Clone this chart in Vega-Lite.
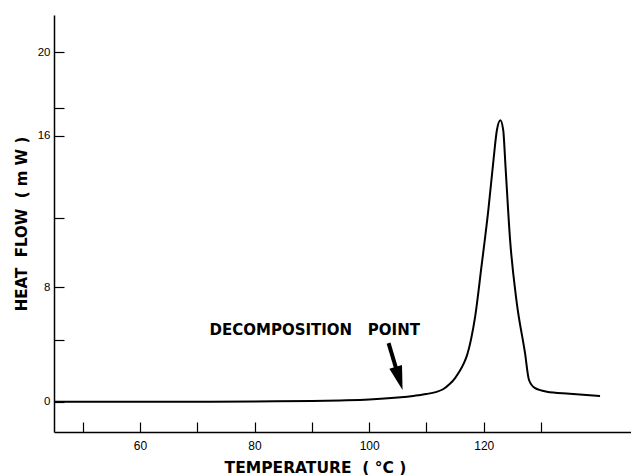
{
  "$schema": "https://vega.github.io/schema/vega-lite/v6.json",
  "autosize": "none",
  "width": 577,
  "height": 417,
  "padding": {"left": 54, "top": 15, "right": 0, "bottom": 43},
  "background": "white",
  "config": {
    "view": {"stroke": null},
    "axis": {
      "domainColor": "black",
      "domainWidth": 1.5,
      "tickColor": "black",
      "tickWidth": 1.2,
      "labelColor": "black",
      "titleColor": "black",
      "labelFont": "Liberation Sans",
      "titleFont": "DejaVu Sans",
      "grid": false
    }
  },
  "datasets": {
    "curve": [
      {"T": 45, "v": 0}, {"T": 50, "v": 0}, {"T": 60, "v": 0}, {"T": 70, "v": 0},
      {"T": 80, "v": 0.05}, {"T": 90, "v": 0.12}, {"T": 95, "v": 0.2},
      {"T": 100, "v": 0.31}, {"T": 105, "v": 0.53}, {"T": 108, "v": 0.72}, {"T": 110, "v": 0.88},
      {"T": 111.6, "v": 1.05}, {"T": 112.9, "v": 1.3}, {"T": 114.1, "v": 1.75}, {"T": 115.0, "v": 2.2},
      {"T": 115.8, "v": 2.72}, {"T": 116.5, "v": 3.25},
      {"T": 117.0, "v": 3.73}, {"T": 117.8, "v": 4.9}, {"T": 118.5, "v": 6.28}, {"T": 119.6, "v": 9.17},
      {"T": 120.8, "v": 12.22}, {"T": 121.7, "v": 14.78}, {"T": 122.3, "v": 16.27},
      {"T": 122.9, "v": 16.75}, {"T": 123.4, "v": 16.27}, {"T": 123.8, "v": 14.45},
      {"T": 124.6, "v": 10.63}, {"T": 125.7, "v": 7.27}, {"T": 127.2, "v": 3.98},
      {"T": 127.9, "v": 2.05}, {"T": 128.9, "v": 1.41}, {"T": 131.0, "v": 1.09},
      {"T": 135.0, "v": 0.91}, {"T": 140.3, "v": 0.69}
    ],
    "label": [{"T": 90.5, "v": 5.46, "text": "DECOMPOSITION\u00a0\u00a0\u00a0POINT"}],
    "shaft": [{"T": 103.39, "v": 4.63, "T2": 104.79, "v2": 2.8}],
    "head": [{"T": 105.23, "v": 2.17}]
  },
  "layer": [
    {
      "data": {"name": "curve"},
      "mark": {"type": "line", "color": "black", "strokeWidth": 2, "interpolate": "monotone"},
      "encoding": {
        "x": {
          "field": "T", "type": "quantitative",
          "scale": {"domain": [45, 145.7], "nice": false, "zero": false},
          "axis": {
            "values": [50, 60, 70, 80, 90, 100, 110, 120, 130],
            "labelExpr": "(datum.value == 60 || datum.value == 80 || datum.value == 100 || datum.value == 120) ? datum.label : ''",
            "tickSize": -10,
            "labelPadding": 18,
            "labelFontSize": 12,
            "title": "TEMPERATURE\u00a0\u00a0( °C )",
            "titleFontSize": 15.5,
            "titleFontWeight": "bold",
            "titleX": 261,
            "titleY": 40,
            "titleBaseline": "alphabetic"
          }
        },
        "y": {
          "field": "v", "type": "quantitative",
          "scale": {"type": "pow", "exponent": 1.22, "domain": [-2.694, 21.73], "nice": false, "zero": false},
          "axis": {
            "values": [0, 4.83, 8, 11.8, 16, 17.34, 20],
            "labelExpr": "(datum.value == 0 || datum.value == 8 || datum.value == 16 || datum.value == 20) ? datum.label : ''",
            "tickSize": -10,
            "labelPadding": 14,
            "labelFontSize": 11.5,
            "title": "HEAT\u00a0\u00a0FLOW\u00a0\u00a0( m W )",
            "titleFontSize": 15,
            "titleFontWeight": "bold",
            "titlePadding": 8
          }
        }
      }
    },
    {
      "data": {"name": "label"},
      "mark": {"type": "text", "font": "DejaVu Sans", "fontWeight": "bold", "fontSize": 15, "color": "black", "align": "center", "baseline": "middle"},
      "encoding": {
        "x": {"field": "T", "type": "quantitative"},
        "y": {"field": "v", "type": "quantitative"},
        "text": {"field": "text"}
      }
    },
    {
      "data": {"name": "shaft"},
      "mark": {"type": "rule", "color": "black", "strokeWidth": 4},
      "encoding": {
        "x": {"field": "T", "type": "quantitative"},
        "y": {"field": "v", "type": "quantitative"},
        "x2": {"field": "T2"},
        "y2": {"field": "v2"}
      }
    },
    {
      "data": {"name": "head"},
      "mark": {"type": "point", "shape": "M-0.55,-1L0.55,-1L0,1Z", "filled": true, "color": "black", "opacity": 1, "size": 576, "angle": -16.6},
      "encoding": {
        "x": {"field": "T", "type": "quantitative"},
        "y": {"field": "v", "type": "quantitative"}
      }
    }
  ]
}
